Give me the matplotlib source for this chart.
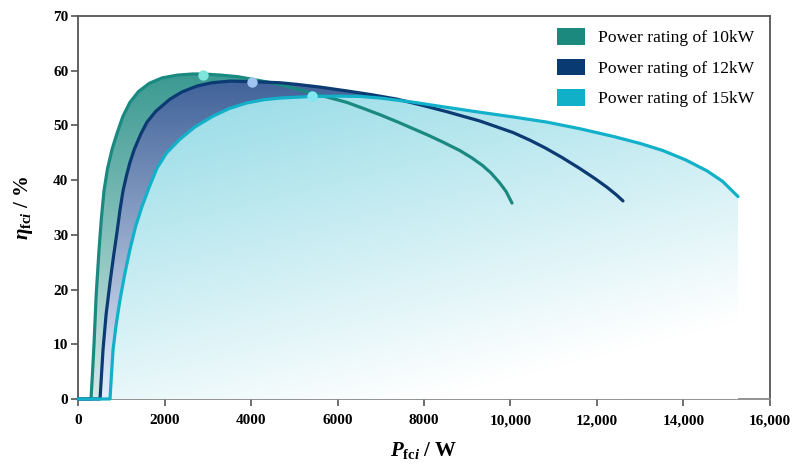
import numpy as np
import matplotlib
matplotlib.use("Agg")
import matplotlib.pyplot as plt
from matplotlib.patches import Patch
from matplotlib.colors import to_rgb

plt.rcParams['font.family'] = ['Liberation Serif', 'DejaVu Serif']
plt.rcParams['mathtext.fontset'] = 'custom'
plt.rcParams['mathtext.rm'] = 'Liberation Serif:bold'
plt.rcParams['mathtext.it'] = 'Liberation Serif:bold:italic'
plt.rcParams['mathtext.bf'] = 'Liberation Serif:bold'

# ---------------- data ----------------
labels = ['Power rating of 10kW', 'Power rating of 12kW', 'Power rating of 15kW']

p10 = [0, 300, 330, 370, 420, 486, 540, 600, 680, 786, 900, 1040, 1200, 1400, 1650,
       1950, 2300, 2650, 2900, 3300, 3700, 4050, 4400, 4700, 5100, 5450, 5850, 6220,
       6600, 7000, 7400, 7750, 8100, 8450, 8830, 9100, 9350, 9550, 9750, 9900, 10035]
e10 = [0, 0, 4.0, 10.0, 19.0, 27.3, 33.0, 38.0, 42.0, 45.6, 48.5, 51.7, 54.2, 56.2, 57.7,
       58.7, 59.2, 59.4, 59.4, 59.2, 58.9, 58.4, 57.9, 57.4, 56.6, 55.8, 55.0, 54.2,
       53.1, 51.9, 50.6, 49.4, 48.2, 46.9, 45.4, 44.1, 42.7, 41.3, 39.5, 37.9, 35.8]

p12 = [0, 509, 540, 578, 650, 740, 820, 900, 970, 1040, 1120, 1200, 1300, 1450, 1595,
       1800, 2127, 2400, 2750, 3100, 3514, 4023, 4670, 5064, 5600, 6220, 6800, 7376,
       7950, 8532, 9295, 10058, 10450, 10800, 11200, 11607, 11950, 12231, 12450, 12601]
e12 = [0, 0, 4.0, 9.0, 15.5, 21.3, 26.0, 30.4, 34.5, 38.0, 40.8, 43.2, 45.6, 48.4, 50.6,
       52.6, 54.8, 56.1, 57.2, 57.8, 58.1, 58.0, 57.8, 57.5, 57.0, 56.3, 55.6, 54.8,
       53.7, 52.5, 50.8, 48.7, 47.3, 45.9, 44.1, 42.1, 40.3, 38.7, 37.3, 36.2]

p15 = [0, 740, 770, 810, 880, 970, 1080, 1200, 1330, 1480, 1650, 1826, 2050, 2358,
       2700, 3121, 3500, 3900, 4300, 4670, 5410, 6000, 6520, 6983, 7700, 8532, 9295,
       10100, 10844, 11600, 12370, 13000, 13526, 14050, 14543, 14900, 15260]
e15 = [0, 0, 4.0, 9.0, 13.5, 18.1, 22.8, 27.3, 31.5, 35.2, 38.8, 42.2, 45.0, 47.5,
       49.7, 51.7, 53.1, 54.1, 54.7, 55.0, 55.3, 55.35, 55.3, 55.0, 54.3, 53.3, 52.4,
       51.5, 50.6, 49.4, 48.0, 46.7, 45.4, 43.7, 41.7, 39.8, 37.0]

peak_p = [2890, 4020, 5410]
peak_e = [59.3, 57.9, 55.3]

xticks = [0, 2000, 4000, 6000, 8000, 10000, 12000, 14000, 16000]
xticklabels = ['0', '2000', '4000', '6000', '8000', '10,000', '12,000', '14,000', '16,000']
yticks = [0, 10, 20, 30, 40, 50, 60, 70]

# ---------------- style ----------------
line_colors = ['#1a8a80', '#0c3a73', '#12b0c9']
marker_colors = ['#7ee5dc', '#a0c4f0', '#82e6f3']

fig = plt.figure(figsize=(7.92, 4.65), dpi=100)
ax = fig.add_axes([0.0985, 0.142, 0.8737, 0.8236])
XMAX, YMAX = 16000, 70
ax.set_xlim(0, XMAX)
ax.set_ylim(0, YMAX)

ny, nx = 300, 400
yy, xx = np.mgrid[0:ny, 0:nx]
eta_grid = (yy + 0.5) / ny * YMAX          # row 0 -> bottom (origin lower)
p_grid = (xx + 0.5) / nx * XMAX


def vgrad(top, bottom, top_eta):
    t = np.clip(eta_grid / top_eta, 0, 1)[..., None]
    top = np.array(to_rgb(top)); bottom = np.array(to_rgb(bottom))
    return bottom + (top - bottom) * t


grad10 = vgrad('#3a9991', '#d3e9e7', 60)
grad12 = vgrad('#41639a', '#e6eefb', 58)
t15 = np.clip(0.42 * (p_grid / 15260) + 0.78 * (1 - eta_grid / 56), 0, 1)[..., None]
c_top = np.array(to_rgb('#8fd9e5'))
grad15 = c_top + (np.ones(3) - c_top) * t15

series = [(p10, e10, grad10), (p12, e12, grad12), (p15, e15, grad15)]
for i, (p, e, g) in enumerate(series):
    poly = ax.fill_between(p, e, 0, color='none', lw=0)
    im = ax.imshow(g, extent=[0, XMAX, 0, YMAX], origin='lower', aspect='auto',
                   zorder=3 + i * 0.1, interpolation='bilinear')
    path = poly.get_paths()[0]
    im.set_clip_path(path, transform=ax.transData)

for i, (p, e, g) in enumerate(series):
    ax.plot(p, e, color=line_colors[i], lw=2.3, zorder=5 + i * 0.1,
            solid_capstyle='round', solid_joinstyle='round', clip_on=False)

for i in range(3):
    ax.plot(peak_p[i], peak_e[i], 'o', ms=7.5, color=marker_colors[i],
            mec='none', zorder=6)

# axes styling
for s in ax.spines.values():
    s.set_color('#555555')
    s.set_linewidth(1.3)
ax.spines['bottom'].set_color('#8a8a8a')
ax.tick_params(direction='out', length=5, width=1.2, color='#555555',
               labelsize=11, pad=3)
ax.set_xticks(xticks)
ax.set_xticklabels(xticklabels, fontweight='bold')
ax.set_yticks(yticks)
ax.set_yticklabels([str(v) for v in yticks], fontweight='bold')
ax.tick_params(axis='x', pad=6)
ax.tick_params(axis='y', pad=2)

ax.set_xlabel(r'$P_{\mathrm{fc}i}$ / W', fontsize=15, fontweight='bold', labelpad=9)
ax.set_ylabel(r'$\eta_{\mathrm{fc}i}$ / %', fontsize=15, fontweight='bold', labelpad=13)

handles = [Patch(facecolor=c, edgecolor='none') for c in ['#1b897e', '#0a3a72', '#10b0c8']]
leg = ax.legend(handles, labels, loc='upper right', frameon=False, fontsize=12.6,
                handlelength=1.6, handleheight=1.1, handletextpad=0.75,
                labelspacing=0.7, bbox_to_anchor=(1.0, 1.01))
leg.set_zorder(10)

fig.savefig('out.png', dpi=100)
